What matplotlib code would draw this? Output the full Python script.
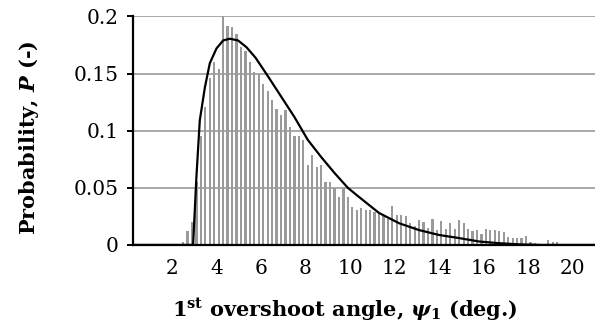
import numpy as np
import matplotlib.pyplot as plt

# histogram of 1st overshoot angle (bin centres, deg.) and probability
angle_bins = [2.5, 2.7, 2.9, 3.1, 3.3, 3.5, 3.7, 3.9, 4.1, 4.3, 4.5, 4.7, 4.9,
              5.1, 5.3, 5.5, 5.7, 5.9, 6.1, 6.3, 6.5, 6.7, 6.9, 7.1, 7.3, 7.5,
              7.7, 7.9, 8.1, 8.3, 8.5, 8.7, 8.9, 9.1, 9.3, 9.5, 9.7, 9.9, 10.1,
              10.3, 10.5, 10.7, 10.9, 11.1, 11.3, 11.5, 11.7, 11.9, 12.1, 12.3,
              12.5, 12.7, 12.9, 13.1, 13.3, 13.5, 13.7, 13.9, 14.1, 14.3, 14.5,
              14.7, 14.9, 15.1, 15.3, 15.5, 15.7, 15.9, 16.1, 16.3, 16.5, 16.7,
              16.9, 17.1, 17.3, 17.5, 17.7, 17.9, 18.1, 18.3, 18.5, 18.7, 18.9,
              19.1, 19.3]
prob_hist = [0.003, 0.012, 0.02, 0.055, 0.095, 0.121, 0.146, 0.160, 0.154, 0.200,
             0.192, 0.191, 0.185, 0.173, 0.170, 0.160, 0.151, 0.150, 0.141, 0.135,
             0.127, 0.119, 0.114, 0.118, 0.103, 0.095, 0.095, 0.092, 0.070, 0.079,
             0.068, 0.070, 0.055, 0.055, 0.050, 0.042, 0.051, 0.042, 0.033, 0.031,
             0.032, 0.031, 0.031, 0.029, 0.028, 0.025, 0.023, 0.034, 0.026, 0.026,
             0.025, 0.019, 0.017, 0.022, 0.020, 0.015, 0.023, 0.013, 0.021, 0.014,
             0.019, 0.014, 0.022, 0.019, 0.014, 0.012, 0.013, 0.010, 0.014, 0.013,
             0.013, 0.012, 0.011, 0.007, 0.006, 0.006, 0.006, 0.008, 0.003, 0.002,
             0.001, 0.0, 0.004, 0.003, 0.003]

# fitted distribution curve
fit_x = [0.25, 2.95, 3.0, 3.1, 3.25, 3.48, 3.7, 4.0, 4.3, 4.6, 4.97, 5.35, 5.75,
         6.3, 6.9, 7.5, 8.1, 8.7, 9.3, 9.9, 10.4, 11.3, 12.2, 13.1, 14.0, 14.9,
         15.8, 16.7, 17.6, 18.6, 21.0]
fit_p = [0.0, 0.0, 0.02, 0.06, 0.109, 0.138, 0.159, 0.172, 0.179, 0.1805, 0.179,
         0.173, 0.164, 0.148, 0.130, 0.112, 0.092, 0.077, 0.063, 0.050, 0.042,
         0.028, 0.019, 0.013, 0.0087, 0.006, 0.003, 0.0015, 0.0005, 0.0, 0.0]

xtick_vals = [2, 4, 6, 8, 10, 12, 14, 16, 18, 20]
ytick_vals = [0, 0.05, 0.1, 0.15, 0.2]
ytick_labels = ["0", "0.05", "0.1", "0.15", "0.2"]

plt.rcParams['font.family'] = 'DejaVu Serif'
plt.rcParams['mathtext.fontset'] = 'custom'
plt.rcParams['mathtext.rm'] = 'DejaVu Serif:bold'
plt.rcParams['mathtext.it'] = 'DejaVu Serif:bold:italic'
plt.rcParams['mathtext.bf'] = 'DejaVu Serif:bold'

fig = plt.figure(figsize=(5.95, 3.31), dpi=100)
ax = fig.add_axes([0.2235, 0.26, 0.7765, 0.692])

ax.bar(angle_bins, prob_hist, width=0.1, color='#9a9a9a', zorder=2)
ax.plot(fit_x, fit_p, color='black', lw=1.6, zorder=3)

ax.set_xlim(0.25, 21.0)
ax.set_ylim(0, 0.2005)
ax.set_xticks(xtick_vals)
ax.set_yticks(ytick_vals)
ax.set_yticklabels(ytick_labels)
ax.yaxis.grid(True, color='#a8a8a8', lw=1.4)
ax.set_axisbelow(True)

for s in ['top', 'right']:
    ax.spines[s].set_visible(False)
ax.spines['left'].set_linewidth(1.6)
ax.spines['bottom'].set_linewidth(1.6)
ax.tick_params(axis='x', length=0, pad=10, labelsize=14.5)
ax.tick_params(axis='y', length=4.5, width=1.4, pad=6, labelsize=14.5)

ax.set_xlabel(r"1$^{\mathrm{st}}$ overshoot angle, $\psi_1$ (deg.)",
              fontsize=15, fontweight='bold')
ax.xaxis.set_label_coords(0.459, -0.225)
ax.set_ylabel(r"Probability, $P$ (-)", fontsize=15, fontweight='bold')
ax.yaxis.set_label_coords(-0.2, 0.47)

fig.savefig("out.png")
